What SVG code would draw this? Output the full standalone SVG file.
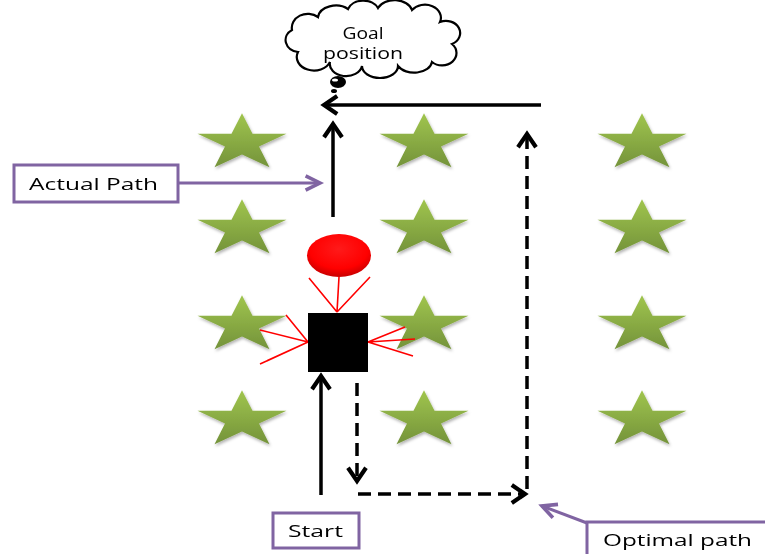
<svg xmlns="http://www.w3.org/2000/svg" width="765" height="554" viewBox="0 0 765 554">
  <style>
    .lbl { font-family: "Open Sans", "Liberation Sans", Arial, sans-serif; fill: #000; }
    .box { fill: #fff; stroke: #8064a2; stroke-width: 3; }
    .path { fill: none; stroke: #000; stroke-width: 3.5; }
    .dash { stroke-dasharray: 13 7; }
    .pointer { fill: none; stroke: #8064a2; stroke-width: 3; }
    .ray { fill: none; stroke: #ff0000; stroke-width: 1.6; }
  </style>
  <defs>
    <linearGradient id="starFill" x1="0" y1="0" x2="0" y2="1">
      <stop offset="0" stop-color="#a0c54e"/>
      <stop offset="1" stop-color="#74933a"/>
    </linearGradient>
    <radialGradient id="ballFill" cx="50%" cy="35%" r="65%">
      <stop offset="0" stop-color="#ff1a1a"/>
      <stop offset="0.7" stop-color="#ff0000"/>
      <stop offset="1" stop-color="#c80000"/>
    </radialGradient>
    <filter id="soft" x="-20%" y="-20%" width="140%" height="150%">
      <feDropShadow dx="1" dy="2" stdDeviation="1.5" flood-color="#000" flood-opacity="0.3"/>
    </filter>
    <path id="star" d="M0,-29.85 L10.5,-9.2 L44.5,-9.2 L17,3.5 L27.5,24.15 L0,11.4 L-27.5,24.15 L-17,3.5 L-44.5,-9.2 L-10.5,-9.2 Z"/>
    <marker id="headK" markerUnits="userSpaceOnUse" markerWidth="24" markerHeight="24" viewBox="-14 -10 16 20" refX="0" refY="0" orient="auto">
      <path d="M-11,-7.5 L0,0 L-11,7.5" fill="none" stroke="#000" stroke-width="3.5"/>
    </marker>
    <marker id="headP" markerUnits="userSpaceOnUse" markerWidth="24" markerHeight="24" viewBox="-14 -10 16 20" refX="0" refY="0" orient="auto">
      <path d="M-12,-6 L0,0 L-12,6" fill="none" stroke="#8064a2" stroke-width="3"/>
    </marker>
  </defs>

  <rect width="765" height="554" fill="#fff"/>

  <!-- obstacle field -->
  <g id="obstacles" fill="url(#starFill)" filter="url(#soft)">
    <use href="#star" x="242" y="143"/>
    <use href="#star" x="242" y="229"/>
    <use href="#star" x="242" y="325"/>
    <use href="#star" x="242" y="420"/>
    <use href="#star" x="424" y="143"/>
    <use href="#star" x="424" y="229"/>
    <use href="#star" x="424" y="325"/>
    <use href="#star" x="424" y="420"/>
    <use href="#star" x="642" y="143"/>
    <use href="#star" x="642" y="229"/>
    <use href="#star" x="642" y="325"/>
    <use href="#star" x="642" y="420"/>
  </g>

  <!-- goal thought bubble -->
  <g id="goal">
    <path d="M298,52 A14,12 0 0 1 292,30 A16,14 0 0 1 318,17 A18,13 0 0 1 348,9 A16,12 0 0 1 378,8 A18,13 0 0 1 412,10 A16,13 0 0 1 440,22 A14,12 0 0 1 452,44 A14,12 0 0 1 432,62 A18,12 0 0 1 398,66 A18,12 0 0 1 362,66 A16,12 0 0 1 330,62 A14,11 0 0 1 298,52 Z" fill="#fff" stroke="#000" stroke-width="2.2"/>
    <ellipse cx="338" cy="82" rx="8" ry="6" fill="#000"/>
    <ellipse cx="335" cy="80" rx="3" ry="1.6" fill="#fff"/>
    <ellipse cx="334" cy="91" rx="3" ry="2" fill="#000"/>
    <text class="lbl" x="363" y="39" font-size="16" text-anchor="middle" textLength="41" lengthAdjust="spacingAndGlyphs">Goal</text>
    <text class="lbl" x="363" y="59" font-size="16" text-anchor="middle" textLength="80" lengthAdjust="spacingAndGlyphs">position</text>
  </g>

  <!-- robot: sensor ball and body with range rays -->
  <g id="robot">
    <g class="ray">
      <path d="M337,312 L309,278 M337,312 L339,277 M337,312 L370,277"/>
      <path d="M308,342 L286,315 M308,342 L260,330 M308,342 L260,364"/>
      <path d="M368,342 L405,327 M368,342 L415,339 M368,342 L413,356"/>
    </g>
    <ellipse cx="339" cy="255.5" rx="32" ry="21.5" fill="url(#ballFill)"/>
    <rect x="308" y="313" width="60" height="59" fill="#000"/>
  </g>

  <!-- paths -->
  <g id="connectors">
    <line class="path" x1="321" y1="495" x2="321" y2="376" marker-end="url(#headK)"/>
    <line class="path" x1="333" y1="217" x2="333" y2="124" marker-end="url(#headK)"/>
    <line class="path" x1="541" y1="105" x2="324" y2="105" marker-end="url(#headK)"/>
    <line class="path dash" x1="357" y1="383" x2="357" y2="481" marker-end="url(#headK)"/>
    <line class="path dash" x1="358" y1="494" x2="525" y2="494" marker-end="url(#headK)"/>
    <line class="path dash" x1="527" y1="489" x2="527" y2="134" marker-end="url(#headK)"/>
    <line class="pointer" x1="179" y1="183" x2="320" y2="183" marker-end="url(#headP)"/>
    <line class="pointer" x1="587" y1="523" x2="542" y2="506" marker-end="url(#headP)"/>
  </g>

  <!-- labels -->
  <g id="label-actual">
    <rect class="box" x="14" y="165" width="164" height="37"/>
    <text class="lbl" x="29" y="190" font-size="17" textLength="129" lengthAdjust="spacingAndGlyphs">Actual Path</text>
  </g>
  <g id="label-start">
    <rect class="box" x="273" y="513" width="86" height="35"/>
    <text class="lbl" x="288" y="537" font-size="17" textLength="55" lengthAdjust="spacingAndGlyphs">Start</text>
  </g>
  <g id="label-optimal">
    <rect class="box" x="587" y="522" width="200" height="60"/>
    <text class="lbl" x="603" y="546" font-size="17" textLength="149" lengthAdjust="spacingAndGlyphs">Optimal path</text>
  </g>
</svg>
